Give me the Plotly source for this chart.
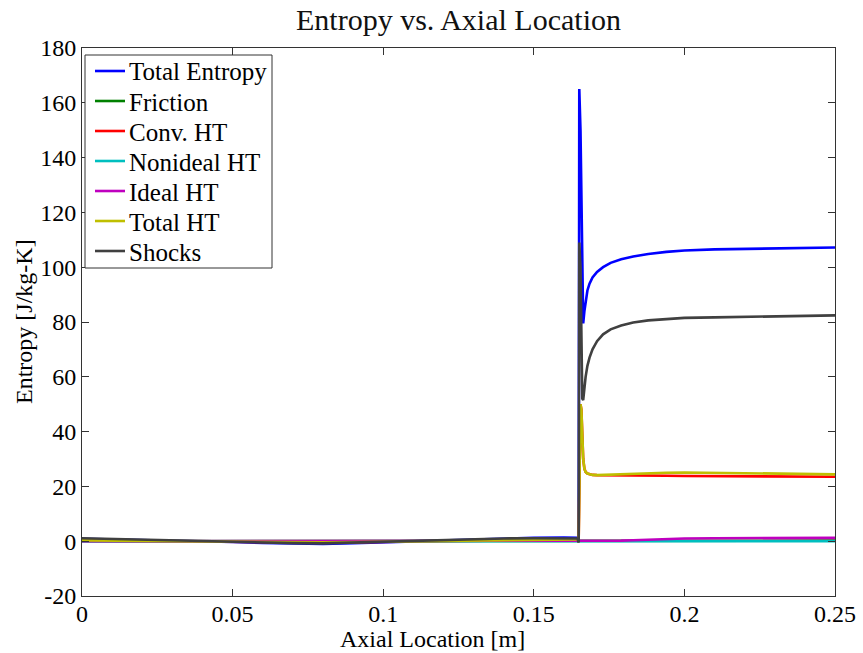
import plotly.graph_objects as go

x_loc = [0, 0.01, 0.02, 0.03, 0.04, 0.05, 0.06, 0.07, 0.08, 0.09, 0.10, 0.11, 0.12, 0.13,
         0.14, 0.15, 0.16, 0.1645, 0.1649, 0.1651, 0.1655, 0.1658, 0.1661, 0.1664, 0.1668,
         0.1672, 0.1678, 0.1685, 0.1695, 0.171, 0.173, 0.1755, 0.179, 0.183, 0.188, 0.194,
         0.2, 0.21, 0.22, 0.23, 0.24, 0.25]

total_entropy = [0.9, 0.7, 0.5, 0.3, 0.0, -0.3, -0.6, -0.9, -1.0, -0.7, -0.4, 0.0, 0.4, 0.7,
                 1.0, 1.2, 1.3, 1.2, 0.5, 165, 150, 120, 85, 79.5, 84,
                 88, 91.5, 94, 96.3, 98.3, 100, 101.6, 102.9, 103.9, 104.8, 105.6,
                 106.1, 106.5, 106.7, 106.9, 107.1, 107.2]

friction = [0.0] * 17 + [0.0, 0.0, 0.1, 0.2, 0.2, 0.2, 0.2, 0.2,
                         0.2, 0.2, 0.2, 0.2, 0.2, 0.2, 0.2, 0.2, 0.2, 0.2, 0.2,
                         0.2, 0.2, 0.2, 0.2, 0.2, 0.2]

conv_ht = [0.2, 0.1, 0.0, -0.1, -0.2, -0.3, -0.4, -0.5, -0.5, -0.4, -0.3, -0.2, 0.0, 0.1,
           0.2, 0.3, 0.4, 0.5, 0.7, 20, 50, 48, 40, 30, 26.5,
           25.3, 24.7, 24.4, 24.2, 24.1, 24.1, 24.1, 24.0, 24.0, 23.9, 23.9,
           23.8, 23.7, 23.6, 23.5, 23.5, 23.5]

nonideal_ht = [0.0] * 42

ideal_ht = [0.0] * 17 + [0.0, 0.0, 0.0, 0.0, 0.0, 0.0, 0.0, 0.0,
                         0.0, 0.0, 0.0, 0.0, 0.0, 0.05, 0.1, 0.2, 0.35, 0.55, 0.8,
                         1.0, 1.1, 1.15, 1.2, 1.2, 1.2]

total_ht = [0.3, 0.2, 0.1, 0.0, -0.1, -0.2, -0.3, -0.4, -0.4, -0.3, -0.2, -0.1, 0.1, 0.2,
            0.3, 0.4, 0.5, 0.6, 0.8, 20, 50, 48, 40, 30, 26.5,
            25.3, 24.7, 24.4, 24.2, 24.1, 24.2, 24.3, 24.4, 24.6, 24.8, 25.0,
            25.1, 25.0, 24.8, 24.6, 24.5, 24.4]

shocks = [1.1, 0.9, 0.7, 0.4, 0.1, -0.2, -0.5, -0.7, -0.8, -0.5, -0.2, 0.1, 0.5, 0.8,
          1.0, 1.1, 1.2, 1.0, -0.5, 109, 100, 80, 52, 51.5, 56,
          60, 64, 67, 70, 73, 75.5, 77.3, 78.7, 79.8, 80.6, 81.1,
          81.5, 81.7, 81.9, 82.1, 82.3, 82.4]

series_names = ["Total Entropy", "Friction", "Conv. HT", "Nonideal HT",
                "Ideal HT", "Total HT", "Shocks"]
series_values = [total_entropy, friction, conv_ht, nonideal_ht, ideal_ht, total_ht, shocks]
series_colors = ["#0000ff", "#008000", "#ff0000", "#00bfbf", "#bf00bf", "#bfbf00", "#404040"]

x_ticks = [0, 0.05, 0.1, 0.15, 0.2, 0.25]
x_tick_text = ["0", "0.05", "0.1", "0.15", "0.2", "0.25"]
y_ticks = [-20, 0, 20, 40, 60, 80, 100, 120, 140, 160, 180]
y_tick_text = ["-20", "0", "20", "40", "60", "80", "100", "120", "140", "160", "180"]

FONT = "Liberation Serif, Times New Roman, serif"
W, H = 863, 653
L, R, T, B = 82, 28, 48, 57
PW, PH = W - L - R, H - T - B


def px_x(px):
    return (px - L) / PW


def px_y(py):
    return (H - B - py) / PH


fig = go.Figure()
for name, vals, col in zip(series_names, series_values, series_colors):
    fig.add_trace(go.Scatter(x=x_loc, y=vals, mode="lines", name=name,
                             line=dict(color=col, width=2.6), showlegend=False))

shapes = []
annotations = []
# manual legend (box, line samples, labels)
shapes.append(dict(type="rect", xref="paper", yref="paper",
                   x0=px_x(85), x1=px_x(272), y0=px_y(268), y1=px_y(55),
                   fillcolor="white", line=dict(color="#333333", width=1), layer="above"))
for i, (name, col) in enumerate(zip(series_names, series_colors)):
    cy = 71 + 30 * i
    shapes.append(dict(type="line", xref="paper", yref="paper",
                       x0=px_x(95), x1=px_x(125), y0=px_y(cy), y1=px_y(cy),
                       line=dict(color=col, width=2.6), layer="above"))
    annotations.append(dict(text=name, xref="paper", yref="paper",
                            x=px_x(127), y=px_y(cy + 1), xanchor="left", yanchor="middle",
                            showarrow=False, font=dict(family=FONT, size=25, color="black")))

# axis titles
annotations.append(dict(text="Axial Location [m]", xref="paper", yref="paper",
                        x=px_x(432), y=px_y(639), xanchor="center", yanchor="middle",
                        showarrow=False, font=dict(family=FONT, size=24, color="black")))
annotations.append(dict(text="Entropy [J/kg-K]", xref="paper", yref="paper",
                        x=px_x(24), y=px_y(322), xanchor="center", yanchor="middle",
                        textangle=-90, showarrow=False,
                        font=dict(family=FONT, size=24, color="black")))

fig.update_layout(
    width=W, height=H,
    margin=dict(l=L, r=R, t=T, b=B),
    paper_bgcolor="white", plot_bgcolor="white",
    font=dict(family=FONT, size=24, color="black"),
    title=dict(text="Entropy vs. Axial Location", xref="paper", x=0.5, xanchor="center",
               y=1 - 19 / H, yanchor="middle", font=dict(family=FONT, size=30, color="#111111")),
    showlegend=False,
    shapes=shapes,
    annotations=annotations,
)
fig.update_xaxes(range=[0, 0.25], tickvals=x_ticks, ticktext=x_tick_text,
                 ticks="inside", ticklen=7, tickcolor="#333333",
                 tickfont=dict(family=FONT, size=24), automargin=False,
                 ticklabelstandoff=-4,
                 showline=True, linecolor="#333333", linewidth=1, mirror="ticks",
                 showgrid=False, zeroline=False)
fig.update_yaxes(range=[-20, 180], tickvals=y_ticks, ticktext=y_tick_text,
                 ticks="inside", ticklen=7, tickcolor="#333333",
                 tickfont=dict(family=FONT, size=24), automargin=False,
                 showline=True, linecolor="#333333", linewidth=1, mirror="ticks",
                 showgrid=False, zeroline=False)

fig.write_html("out.html")
